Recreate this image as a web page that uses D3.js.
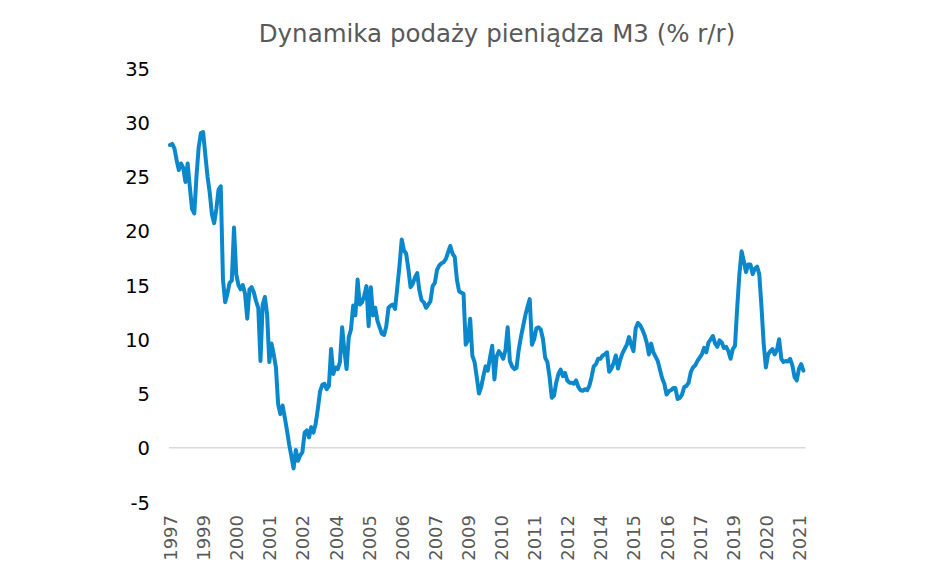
<!DOCTYPE html>
<html>
<head>
<meta charset="utf-8">
<script src="https://cdn.jsdelivr.net/npm/d3@7"></script>
<style>
  html, body { margin: 0; padding: 0; background: #fff; }
  svg { display: block; }
</style>
</head>
<body>
<svg id="chart" width="948" height="584"></svg>
<script>
const title = "Dynamika podaży pieniądza M3 (% r/r)";

// monthly M3 growth, % y/y
const values = [
  27.9, 28.0, 27.6, 26.5, 25.6, 26.2, 25.8, 24.5, 26.2, 24.0, 22.0, 21.6,
  25.0, 27.7, 29.0, 29.1, 27.0, 25.0, 23.5, 21.5, 20.7, 22.0, 23.8, 24.1,
  15.5, 13.4, 14.2, 15.2, 15.4, 20.3, 16.0, 15.0, 14.6, 15.0, 14.2, 11.9,
  14.6, 14.8, 14.3, 13.5, 12.9, 8.0, 13.2, 13.9, 12.3, 7.9, 9.6, 8.6,
  7.4, 4.0, 3.1, 3.9, 2.8, 1.6, 0.3, -0.8, -1.9, -0.2, -1.2, -0.7,
  -0.4, 1.4, 1.6, 0.95, 1.9, 1.4, 2.2, 3.6, 5.2, 5.8, 5.9, 5.4,
  5.7, 9.1, 6.8, 7.4, 7.25, 7.9, 11.1, 9.0, 7.25, 10.2, 10.9, 13.1,
  12.2, 15.5, 13.2, 13.4, 14.0, 14.9, 11.2, 14.8, 12.2, 12.9, 11.7, 11.1,
  10.5, 10.4, 11.2, 12.9, 13.1, 13.2, 12.8, 14.8, 16.8, 19.2, 18.2, 17.9,
  16.5, 14.8, 15.1, 15.7, 16.1, 14.5, 13.6, 13.4, 12.9, 13.2, 13.5, 14.9,
  15.2, 16.4, 16.8, 17.0, 17.1, 17.4, 18.0, 18.6, 17.9, 17.6, 15.5, 14.4,
  14.3, 14.2, 9.5, 9.9, 11.9, 8.5, 7.9, 6.5, 5.0, 5.6, 6.6, 7.5,
  7.1, 8.3, 9.4, 6.3, 8.4, 8.9, 8.6, 8.2, 9.0, 11.1, 8.0, 7.5,
  7.25, 7.35, 9.0, 10.2, 11.2, 12.2, 13.0, 13.7, 9.5, 10.0, 11.0, 11.1,
  10.9, 10.0, 8.3, 7.9, 6.5, 4.6, 4.8, 6.0, 6.8, 7.2, 6.6, 6.9,
  6.2, 6.0, 6.0, 5.9, 6.2, 5.6, 5.3, 5.25, 5.4, 5.3, 5.7, 6.5,
  7.5, 7.7, 8.2, 8.2, 8.5, 8.6, 8.8, 7.0, 7.3, 7.8, 8.5, 7.3,
  8.1, 8.7, 9.1, 9.5, 10.2, 9.5, 8.9, 11.0, 11.5, 11.3, 10.9, 10.4,
  9.7, 8.6, 9.6, 8.8, 8.4, 8.0, 7.2, 6.4, 5.9, 4.9, 5.2, 5.3,
  5.5, 5.5, 4.5, 4.6, 4.9, 5.6, 5.7, 6.0, 7.0, 7.4, 7.6, 8.0,
  8.3, 8.6, 9.2, 8.8, 9.7, 10.0, 10.3, 9.6, 9.3, 9.9, 9.7, 9.2,
  9.3, 8.9, 8.2, 9.1, 9.4, 12.9, 16.0, 18.1, 17.2, 16.2, 16.9, 16.9,
  16.0, 16.5, 16.7, 16.0, 13.0, 9.6, 7.4, 8.6, 8.9, 9.1, 8.6, 9.0,
  10.0, 8.2, 7.9, 8.0, 7.95, 8.2, 7.6, 6.5, 6.2, 7.3, 7.7, 7.1
];

// category labels shown every 15 months
const tickLabels = ["1997","1999","2000","2001","2002","2004","2005","2006","2007","2009",
                    "2010","2011","2012","2014","2015","2016","2017","2019","2020","2021"];
const tickStep = 15;
const yTicks = [-5, 0, 5, 10, 15, 20, 25, 30, 35];

const svg = d3.select("#chart");
const plotLeft = 170, plotRight = 803.4, plotTop = 68, plotBottom = 502;

const x = d3.scaleLinear().domain([0, values.length - 1]).range([plotLeft, plotRight]);
const y = d3.scaleLinear().domain([-5, 35]).range([plotBottom, plotTop]);

// title
svg.append("text")
  .attr("x", 497).attr("y", 42)
  .attr("text-anchor", "middle")
  .attr("font-family", "Verdana, 'DejaVu Sans', sans-serif")
  .attr("font-size", 24.5)
  .attr("fill", "#595959")
  .text(title);

// zero line
svg.append("line")
  .attr("x1", plotLeft - 1).attr("x2", plotRight + 2)
  .attr("y1", y(0)).attr("y2", y(0))
  .attr("stroke", "#d9d9d9").attr("stroke-width", 1.5);

// y axis
const yAxis = svg.append("g")
  .attr("transform", `translate(${150},0)`)
  .call(d3.axisLeft(y).tickValues(yTicks).tickSize(0).tickPadding(0).tickFormat(d => String(d)));
yAxis.select(".domain").remove();
yAxis.selectAll("text")
  .attr("font-family", "Verdana, 'DejaVu Sans', sans-serif")
  .attr("font-size", 19.5)
  .attr("fill", "#000")
  .attr("dy", "0.36em");

// x axis
const xTickVals = tickLabels.map((d, i) => i * tickStep);
const xAxis = svg.append("g")
  .attr("transform", `translate(0,${515})`)
  .call(d3.axisBottom(x).tickValues(xTickVals).tickSize(0).tickPadding(0)
        .tickFormat((d, i) => tickLabels[i]));
xAxis.select(".domain").remove();
xAxis.selectAll("text")
  .attr("font-family", "Verdana, 'DejaVu Sans', sans-serif")
  .attr("font-size", 18)
  .attr("fill", "#595959")
  .attr("text-anchor", "end")
  .attr("transform", "rotate(-90)")
  .attr("x", 0)
  .attr("y", 0)
  .attr("dy", "0.36em");

// line
const line = d3.line()
  .x((d, i) => x(i))
  .y(d => y(d))
  .curve(d3.curveLinear);

svg.append("path")
  .datum(values)
  .attr("d", line)
  .attr("fill", "none")
  .attr("stroke", "#0b88cc")
  .attr("stroke-width", 4)
  .attr("stroke-linejoin", "round")
  .attr("stroke-linecap", "round");
</script>
</body>
</html>
